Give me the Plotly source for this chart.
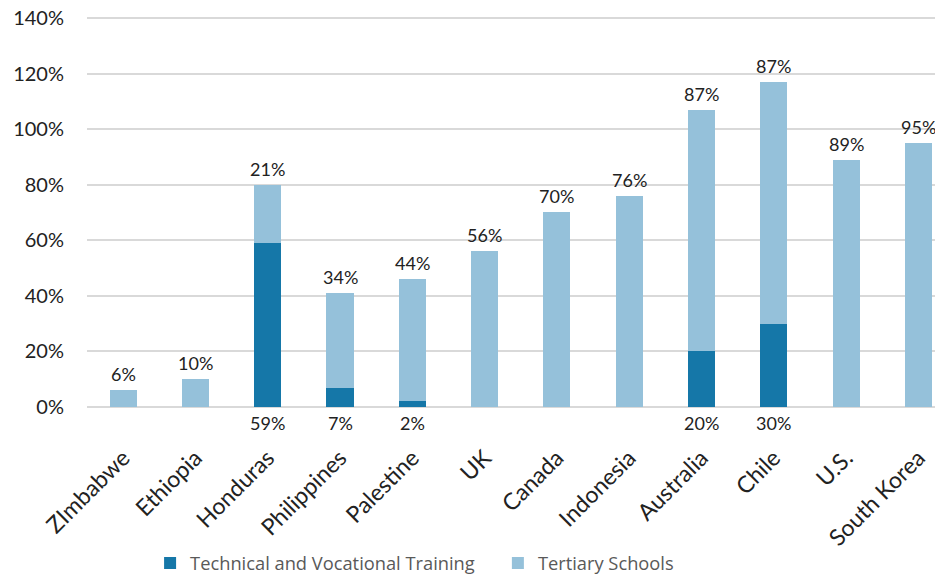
import plotly.graph_objects as go

countries = ["ZImbabwe", "Ethiopia", "Honduras", "Philippines", "Palestine", "UK",
             "Canada", "Indonesia", "Australia", "Chile", "U.S.", "South Korea"]
technical = [0, 0, 59, 7, 2, 0, 0, 0, 20, 30, 0, 0]
tertiary = [6, 10, 21, 34, 44, 56, 70, 76, 87, 87, 89, 95]
y_ticks = [0, 20, 40, 60, 80, 100, 120, 140]

dark = "#1577A8"
light = "#95C1DA"
label_font = dict(family="Lato", size=18, color="#222222")

fig = go.Figure()
fig.add_trace(go.Bar(x=countries, y=technical, name="Technical and Vocational Training",
                     marker=dict(color=dark, line=dict(width=0)), width=0.375,
                     legend="legend"))
fig.add_trace(go.Bar(x=countries, y=tertiary, name="Tertiary Schools",
                     marker=dict(color=light, line=dict(width=0)), width=0.375,
                     legend="legend2"))

totals = [a + b for a, b in zip(technical, tertiary)]
for c, t, v in zip(countries, totals, tertiary):
    fig.add_annotation(x=c, y=t, text=f"{v}%", showarrow=False, yanchor="bottom",
                       yshift=3, font=label_font)
for c, v in zip(countries, technical):
    if v > 0:
        fig.add_annotation(x=c, y=0, text=f"{v}%", showarrow=False, yanchor="top",
                           yshift=-3, font=label_font)

legend_common = dict(orientation="h", yanchor="middle", y=-0.398, xanchor="left",
                     font=dict(family="Open Sans", size=18.3, color="#595959"),
                     itemwidth=30, bgcolor="rgba(0,0,0,0)")

fig.update_layout(
    width=935, height=569,
    margin=dict(l=79, r=0, t=7, b=170, autoexpand=False),
    barmode="stack",
    plot_bgcolor="white", paper_bgcolor="white",
    showlegend=True,
    legend=dict(x=0.0737, **legend_common),
    legend2=dict(x=0.480, **legend_common),
    xaxis=dict(range=[-0.5, 11.34], tickangle=-45, automargin=False,
               tickfont=dict(family="Lato", size=23, color="#222222"),
               showgrid=False, showline=False, ticks="", ticklabelstandoff=32,
               ticklabeloverflow="allow"),
    yaxis=dict(range=[0, 141.06], tickvals=y_ticks, ticktext=[f"{v}%" for v in y_ticks],
               automargin=False, ticklabeloverflow="allow",
               tickfont=dict(family="Lato", size=20, color="#222222"),
               showgrid=True, gridcolor="#D9D9D9", gridwidth=2,
               zeroline=True, zerolinecolor="#D9D9D9", zerolinewidth=2,
               ticks="", ticklabelstandoff=22),
)

fig.write_html("out.html")
